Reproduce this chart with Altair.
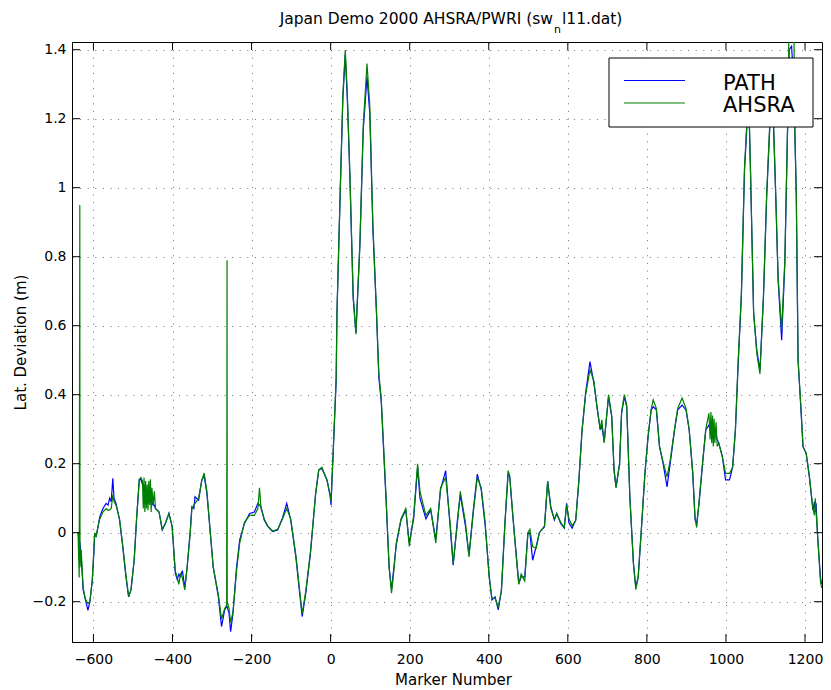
import altair as alt
import pandas as pd

# ---------------- data ----------------
X = [-639, -636, -634.5, -634, -631, -626, -621, -617, -614, -609,
     -603, -599, -597, -593, -588, -584, -576, -568, -563, -559,
     -555, -551, -548, -543, -534, -526, -518, -511, -505, -497,
     -491, -484, -480, -476, -474, -472, -470, -468, -466, -464,
     -462, -460, -458, -456, -454, -452, -449, -446, -443, -434,
     -426, -418, -409, -401, -393, -388, -384, -380, -375, -369,
     -363, -355, -351, -346, -343, -334, -326, -320, -313, -305,
     -297, -284, -276, -268, -263, -262, -261.5, -257, -253, -247,
     -238, -230, -218, -205, -193, -184, -180, -176, -168, -159,
     -147, -134, -122, -111, -101, -88, -80, -72, -63, -51,
     -38, -30, -22, -9, -1, 1, 7, 14, 16, 24,
     31, 37, 42, 49, 57, 64, 74, 82.5, 92, 99,
     107, 116, 122, 128, 140, 148, 154, 160, 166, 178,
     190, 199, 210, 220, 226, 241, 253, 266, 278, 291,
     303, 310, 321, 328, 341, 350, 361, 371, 381, 391,
     401, 408, 416, 424, 432, 441, 449, 453, 461, 470,
     476, 482, 491, 499, 504, 511, 520, 528, 541, 549,
     557, 566, 572, 582, 591, 597, 603, 611, 620, 628,
     636, 645, 656, 666, 674, 682, 686, 692, 703, 711,
     717, 722, 731, 736, 743, 749, 757, 766, 772, 778,
     786, 795, 803, 811, 816, 824, 832, 841, 851, 859,
     870, 878, 889, 899, 907, 916, 922, 926, 932, 941,
     949, 957, 960, 962, 964, 966, 968, 970, 972, 975,
     978, 982, 991, 999, 1009, 1017, 1024, 1031, 1039, 1047,
     1053, 1057, 1062, 1070, 1078, 1086, 1095, 1103, 1111, 1117,
     1126, 1132, 1141, 1149, 1156, 1160, 1166, 1172, 1174, 1178,
     1182.5, 1190, 1195, 1203, 1211, 1220, 1224, 1226, 1228, 1232,
     1239, 1242]

PATH = [0.00, -0.02, -0.03, -0.03, -0.07, -0.166, -0.19, -0.21, -0.225, -0.20,
        -0.14, -0.06, -0.01, -0.01, 0.02, 0.046, 0.07, 0.085, 0.08, 0.10,
        0.09, 0.158, 0.10, 0.085, 0.037, -0.04, -0.127, -0.186, -0.166, -0.08,
        0.037, 0.153, 0.155, 0.14, 0.14, 0.13, 0.12, 0.12, 0.11, 0.11,
        0.10, 0.10, 0.10, 0.09, 0.09, 0.09, 0.08, 0.08, 0.07, 0.06,
        0.008, 0.027, 0.057, 0.018, -0.117, -0.136, -0.12, -0.127, -0.11, -0.16,
        -0.10, 0.008, 0.075, 0.07, 0.104, 0.094, 0.153, 0.165, 0.114, 0.008,
        -0.10, -0.186, -0.272, -0.224, -0.214, -0.214, -0.215, -0.233, -0.287, -0.233,
        -0.10, -0.021, 0.027, 0.056, 0.06, 0.085, 0.08, 0.075, 0.037, 0.018,
        0.003, 0.008, 0.042, 0.085, 0.037, -0.07, -0.157, -0.243, -0.176, -0.06,
        0.114, 0.182, 0.186, 0.153, 0.104, 0.08, 0.249, 0.44, 0.637, 0.974,
        1.26, 1.385, 1.264, 1.02, 0.68, 0.58, 0.83, 1.167, 1.322, 1.216,
        0.877, 0.637, 0.45, 0.38, 0.10, -0.10, -0.165, -0.10, -0.035, 0.037,
        0.066, -0.03, 0.04, 0.19, 0.10, 0.04, 0.066, -0.02, 0.124, 0.18,
        0.008, -0.094, 0.04, 0.11, 0.02, -0.065, 0.066, 0.17, 0.124, 0.02,
        -0.123, -0.195, -0.186, -0.224, -0.166, 0.027, 0.172, 0.162, 0.046, -0.07,
        -0.147, -0.128, -0.128, -0.002, 0.0, -0.08, -0.04, 0.0, 0.017, 0.148,
        0.075, 0.037, 0.056, 0.027, 0.013, 0.085, 0.028, 0.013, 0.037, 0.153,
        0.298, 0.404, 0.496, 0.433, 0.365, 0.298, 0.31, 0.264, 0.394, 0.336,
        0.182, 0.133, 0.201, 0.346, 0.394, 0.365, 0.104, -0.089, -0.157, -0.128,
        0.008, 0.172, 0.278, 0.356, 0.365, 0.356, 0.249, 0.201, 0.133, 0.201,
        0.298, 0.356, 0.370, 0.356, 0.298, 0.172, 0.037, 0.027, 0.085, 0.201,
        0.298, 0.312, 0.30, 0.31, 0.30, 0.30, 0.29, 0.29, 0.28, 0.28,
        0.27, 0.259, 0.22, 0.153, 0.153, 0.191, 0.298, 0.491, 0.684, 1.051,
        1.177, 1.28, 1.051, 0.636, 0.53, 0.47, 0.684, 0.974, 1.177, 1.30,
        0.974, 0.732, 0.558, 0.781, 1.177, 1.40, 1.41, 1.30, 1.177, 0.974,
        0.50, 0.35, 0.249, 0.23, 0.162, 0.066, 0.09, 0.06, 0.085, -0.012,
        -0.128, -0.15]

AHSRA = [0.00, -0.13, 0.95, -0.10, -0.05, -0.16, -0.19, -0.20, -0.205, -0.20,
         -0.137, -0.05, 0.0, -0.01, 0.02, 0.04, 0.06, 0.07, 0.065, 0.066,
         0.07, 0.11, 0.09, 0.08, 0.04, -0.035, -0.12, -0.185, -0.165, -0.08,
         0.04, 0.155, 0.16, 0.15, 0.07, 0.16, 0.06, 0.15, 0.07, 0.14,
         0.065, 0.15, 0.08, 0.155, 0.06, 0.13, 0.08, 0.12, 0.07, 0.06,
         0.01, 0.027, 0.055, 0.02, -0.11, -0.13, -0.15, -0.12, -0.13, -0.166,
         -0.10, 0.0, 0.07, 0.08, 0.085, 0.10, 0.15, 0.173, 0.12, 0.01,
         -0.10, -0.18, -0.25, -0.22, -0.21, 0.79, -0.20, -0.22, -0.26, -0.23,
         -0.11, -0.03, 0.03, 0.05, 0.05, 0.07, 0.13, 0.07, 0.04, 0.02,
         0.005, 0.01, 0.04, 0.07, 0.04, -0.065, -0.15, -0.235, -0.17, -0.055,
         0.11, 0.182, 0.19, 0.15, 0.11, 0.09, 0.25, 0.45, 0.637, 0.98,
         1.27, 1.399, 1.28, 1.03, 0.69, 0.575, 0.84, 1.18, 1.36, 1.24,
         0.89, 0.64, 0.46, 0.39, 0.11, -0.10, -0.175, -0.11, -0.03, 0.04,
         0.07, -0.04, 0.05, 0.20, 0.12, 0.05, 0.07, -0.03, 0.13, 0.16,
         0.02, -0.09, 0.03, 0.12, 0.03, -0.07, 0.06, 0.16, 0.13, 0.03,
         -0.13, -0.19, -0.19, -0.215, -0.17, 0.03, 0.18, 0.165, 0.05, -0.075,
         -0.15, -0.12, -0.14, 0.0, 0.01, -0.04, -0.045, 0.0, 0.02, 0.15,
         0.07, 0.04, 0.055, 0.03, 0.015, 0.08, 0.04, 0.02, 0.035, 0.15,
         0.295, 0.40, 0.472, 0.44, 0.36, 0.30, 0.327, 0.26, 0.40, 0.34,
         0.18, 0.13, 0.20, 0.35, 0.40, 0.37, 0.10, -0.09, -0.165, -0.13,
         0.01, 0.17, 0.28, 0.36, 0.385, 0.36, 0.25, 0.205, 0.162, 0.21,
         0.30, 0.36, 0.39, 0.36, 0.30, 0.175, 0.04, 0.015, 0.09, 0.205,
         0.30, 0.346, 0.27, 0.35, 0.26, 0.34, 0.25, 0.33, 0.26, 0.32,
         0.25, 0.26, 0.22, 0.172, 0.172, 0.19, 0.30, 0.50, 0.69, 1.06,
         1.19, 1.30, 1.06, 0.64, 0.52, 0.46, 0.69, 0.98, 1.19, 1.32,
         0.98, 0.74, 0.588, 0.79, 1.18, 1.50, 1.60, 1.45, 1.18, 0.98,
         0.50, 0.36, 0.25, 0.23, 0.165, 0.07, 0.05, 0.10, 0.06, -0.01,
         -0.14, -0.16]

X_TICKS = [-600, -400, -200, 0, 200, 400, 600, 800, 1000, 1200]
Y_TICKS = [-0.2, 0, 0.2, 0.4, 0.6, 0.8, 1, 1.2, 1.4]
SERIES = ["PATH", "AHSRA"]
COLORS = ["#0000ff", "#008000"]
TITLE_PARTS = ["Japan Demo 2000 AHSRA/PWRI (sw", "n", "l11.dat)"]
X_TITLE = "Marker Number"
Y_TITLE = "Lat. Deviation (m)"

assert len(X) == len(PATH) == len(AHSRA)

# ---------------- chart ----------------
FONT = "DejaVu Sans"
W, H = 750, 600          # plot area; whole svg = 64 + 750 + 1 = 815 px wide
TL = 8                   # inward tick length

df = pd.DataFrame({"x": X, "PATH": PATH, "AHSRA": AHSRA})
ticks_x = pd.DataFrame({"x": X_TICKS})
ticks_y = pd.DataFrame({"y": Y_TICKS})

xs = alt.Scale(domain=[-654.25, 1243], nice=False, zero=False)
ys = alt.Scale(domain=[-0.3168, 1.4223], nice=False, zero=False)

axis_common = dict(grid=True, gridColor="#000000", gridOpacity=0.55,
                   gridDash=[1, 6.6], gridWidth=1, ticks=False,
                   domainColor="black", domainWidth=1,
                   labelFont=FONT, labelFontSize=14, labelColor="black",
                   titleFont=FONT, titleFontSize=15, titleFontWeight="normal",
                   titleColor="black")

x_axis = alt.Axis(values=X_TICKS, format="d", title=X_TITLE, labelPadding=10,
                  titleX=381, titleY=42, titleBaseline="alphabetic",
                  titleAlign="center", **axis_common)
y_axis = alt.Axis(values=Y_TICKS, format="~g", title=Y_TITLE, labelPadding=6,
                  titleX=-52, titleY=H / 2, titleAngle=-90,
                  titleBaseline="middle", titleAlign="center", **axis_common)

XENC = alt.X("x:Q", scale=xs, axis=x_axis, title=X_TITLE)
base = alt.Chart(df)
line_path = base.mark_line(color=COLORS[0], strokeWidth=1.2, clip=True).encode(
    x=XENC,
    y=alt.Y("PATH:Q", scale=ys, axis=y_axis, title=Y_TITLE),
)
line_ahsra = base.mark_line(color=COLORS[1], strokeWidth=1.2, clip=True).encode(
    x=XENC,
    y=alt.Y("AHSRA:Q", scale=ys, axis=y_axis, title=Y_TITLE),
)

# inward ticks on all four sides (MATLAB box style)
xt = alt.Chart(ticks_x)
yt = alt.Chart(ticks_y)
YTENC = alt.Y("y:Q", scale=ys, axis=y_axis, title=Y_TITLE)
tick_b = xt.mark_rule(color="black", strokeWidth=1).encode(
    x=XENC, y=alt.value(H), y2=alt.value(H - TL))
tick_t = xt.mark_rule(color="black", strokeWidth=1).encode(
    x=XENC, y=alt.value(0), y2=alt.value(TL))
tick_l = yt.mark_rule(color="black", strokeWidth=1).encode(
    y=YTENC, x=alt.value(0), x2=alt.value(TL))
tick_r = yt.mark_rule(color="black", strokeWidth=1).encode(
    y=YTENC, x=alt.value(W), x2=alt.value(W - TL))

# legend box (drawn by hand, MATLAB style)
one = alt.Chart(alt.Data(values=[{}]))
leg_box = one.mark_rect(fill="white", stroke="black", strokeWidth=1).encode(
    x=alt.value(537), x2=alt.value(741), y=alt.value(16), y2=alt.value(85))
leg_l1 = one.mark_rule(color=COLORS[0], strokeWidth=1).encode(
    x=alt.value(552), x2=alt.value(613), y=alt.value(38.5))
leg_l2 = one.mark_rule(color=COLORS[1], strokeWidth=1).encode(
    x=alt.value(552), x2=alt.value(613), y=alt.value(61))
leg_t1 = one.mark_text(font=FONT, fontSize=21, align="left", baseline="alphabetic",
                       color="black").encode(
    x=alt.value(651), y=alt.value(47.5), text=alt.value(SERIES[0]))
leg_t2 = one.mark_text(font=FONT, fontSize=21, align="left", baseline="alphabetic",
                       color="black").encode(
    x=alt.value(651), y=alt.value(70), text=alt.value(SERIES[1]))

# title with subscript
t1 = one.mark_text(font=FONT, fontSize=15.5, align="right", baseline="alphabetic",
                   color="black").encode(
    x=alt.value(481), y=alt.value(-18), text=alt.value(TITLE_PARTS[0]))
t2 = one.mark_text(font=FONT, fontSize=11, align="left", baseline="alphabetic",
                   color="black").encode(
    x=alt.value(482), y=alt.value(-9), text=alt.value(TITLE_PARTS[1]))
t3 = one.mark_text(font=FONT, fontSize=15.5, align="left", baseline="alphabetic",
                   color="black").encode(
    x=alt.value(490), y=alt.value(-18), text=alt.value(TITLE_PARTS[2]))

chart = alt.layer(
    line_path, line_ahsra, tick_b, tick_t, tick_l, tick_r,
    leg_box, leg_l1, leg_l2, leg_t1, leg_t2, t1, t2, t3,
).properties(
    width=W, height=H,
    autosize=alt.AutoSizeParams(type="none"),
    padding={"left": 64, "top": 34, "right": 1, "bottom": 48},
    background="white",
).configure_view(stroke="black", strokeWidth=1)

chart.save("out.html", embed_options={"renderer": "svg", "actions": False})
